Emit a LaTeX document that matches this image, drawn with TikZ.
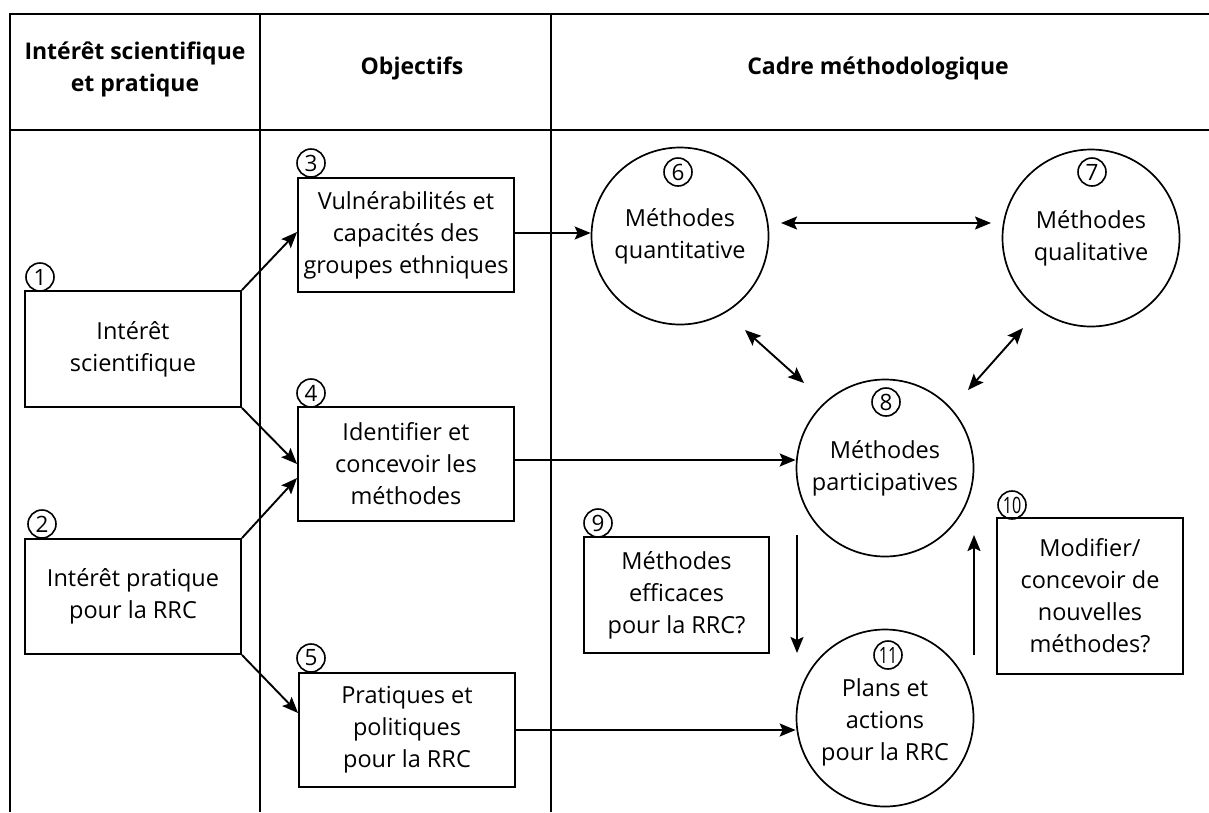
\documentclass[tikz,border=0pt]{standalone}
\usepackage{fontspec}
\setmainfont{Open Sans}
\usetikzlibrary{arrows.meta}
\begin{document}
\begin{tikzpicture}[x=1pt,y=-1pt,
  every node/.style={font=\fontsize{23.5}{32}\selectfont, align=center},
  hdr/.style={font=\bfseries\fontsize{23}{32}\selectfont},
  box/.style={draw, line width=1.9pt, inner sep=0pt},
  bigc/.style={draw, circle, line width=1.7pt, minimum size=177pt, inner sep=0pt},
  num/.style={draw, circle, line width=1.6pt, minimum size=28pt, inner sep=0pt, font=\fontsize{22.5}{22.5}\selectfont},
  tbl/.style={line width=2.1pt},
  arr/.style={line width=1.9pt, -{Stealth[length=16pt,width=13pt,inset=3pt]}},
  darr/.style={line width=1.9pt, {Stealth[length=16pt,width=13pt,inset=3pt]}-{Stealth[length=16pt,width=13pt,inset=3pt]}}
]
\useasboundingbox (0,0) rectangle (1209,812);
\fill[white] (0,0) rectangle (1209,812);
% table
\draw[tbl] (1209,14) -- (10,14) -- (10,812);
\draw[tbl] (10,130) -- (1209,130);
\draw[tbl] (260,14) -- (260,812);
\draw[tbl] (551,14) -- (551,812);
% headers
\node[hdr] (h1) at (135,69) {Intérêt scientifique\\et pratique};
\node[hdr] (h2) at (412,68) {Objectifs};
\node[hdr] (h3) at (878,68) {Cadre méthodologique};
% boxes
\node[box, minimum width=216pt, minimum height=116pt] (b1) at (133,349) {Intérêt\\scientifique};
\node[box, minimum width=216pt, minimum height=115pt] (b2) at (133,596.5) {Intérêt pratique\\pour la RRC};
\node[box, minimum width=216pt, minimum height=114pt] (b3) at (406,235) {Vulnérabilités et\\capacités des\\groupes ethniques};
\node[box, minimum width=216pt, minimum height=114pt] (b4) at (406,464) {Identifier et\\concevoir les\\méthodes};
\node[box, minimum width=216pt, minimum height=114pt] (b5) at (407,730) {Pratiques et\\politiques\\pour la RRC};
\node[box, minimum width=185pt, minimum height=116pt] (b9) at (676.5,595) {Méthodes\\efficaces\\pour la RRC?};
\node[box, minimum width=186pt, minimum height=156pt] (b10) at (1090,596) {Modifier/\\concevoir de\\nouvelles\\méthodes?};
% big circles
\node[bigc] (c6) at (680,236) {Méthodes\\quantitative};
\node[bigc] (c7) at (1091,238) {Méthodes\\qualitative};
\node[bigc] (c8) at (885,468) {Méthodes\\participatives};
\node[bigc] (c11) at (885,718) {};
\node (t11) at (885,722) {Plans et\\actions\\pour la RRC};
% numbers
\node[num] (n1) at (40,277) {1};
\node[num] (n2) at (42,524) {2};
\node[num] (n3) at (311,163) {3};
\node[num] (n4) at (311,393) {4};
\node[num] (n5) at (311,658) {5};
\node[num] (n6) at (678,172) {6};
\node[num] (n7) at (1092,172) {7};
\node[num] (n8) at (886,402) {8};
\node[num] (n9) at (598,523) {9};
\node[num] (n10) at (1012,505) {\scalebox{0.72}[1]{10}};
\node[num] (n11) at (888,655) {\scalebox{0.72}[1]{11}};
% free ends
\coordinate (a67s) at (781,223);
\coordinate (a67e) at (991,223);
\coordinate (a68s) at (745,330);
\coordinate (a68e) at (804,383);
\coordinate (a78s) at (1023,328);
\coordinate (a78e) at (968,390);
\coordinate (a811s) at (797,535);
\coordinate (a811e) at (797,653);
\coordinate (a118s) at (974,655);
\coordinate (a118e) at (974,535);
% connectors
\draw[arr] (b1.north east) -- ([yshift=3pt]b3.west);
\draw[arr] (b1.south east) -- (b4.west);
\draw[arr] (b2.north east) -- ([yshift=-14pt]b4.west);
\draw[arr] (b2.south east) -- ([yshift=17pt]b5.west);
\draw[arr] ([yshift=2pt]b3.east) -- ([yshift=2pt]b3.east -| c6.west);
\draw[arr] ([yshift=4pt]b4.east) -- ([yshift=4pt]b4.east -| c8.west);
\draw[arr] (b5.east) -- (b5.east -| c11.west);
\draw[darr] (a67s) -- (a67e);
\draw[darr] (a68s) -- (a68e);
\draw[darr] (a78s) -- (a78e);
\draw[arr] (a811s) -- (a811e);
\draw[arr] (a118s) -- (a118e);
\end{tikzpicture}
\end{document}
